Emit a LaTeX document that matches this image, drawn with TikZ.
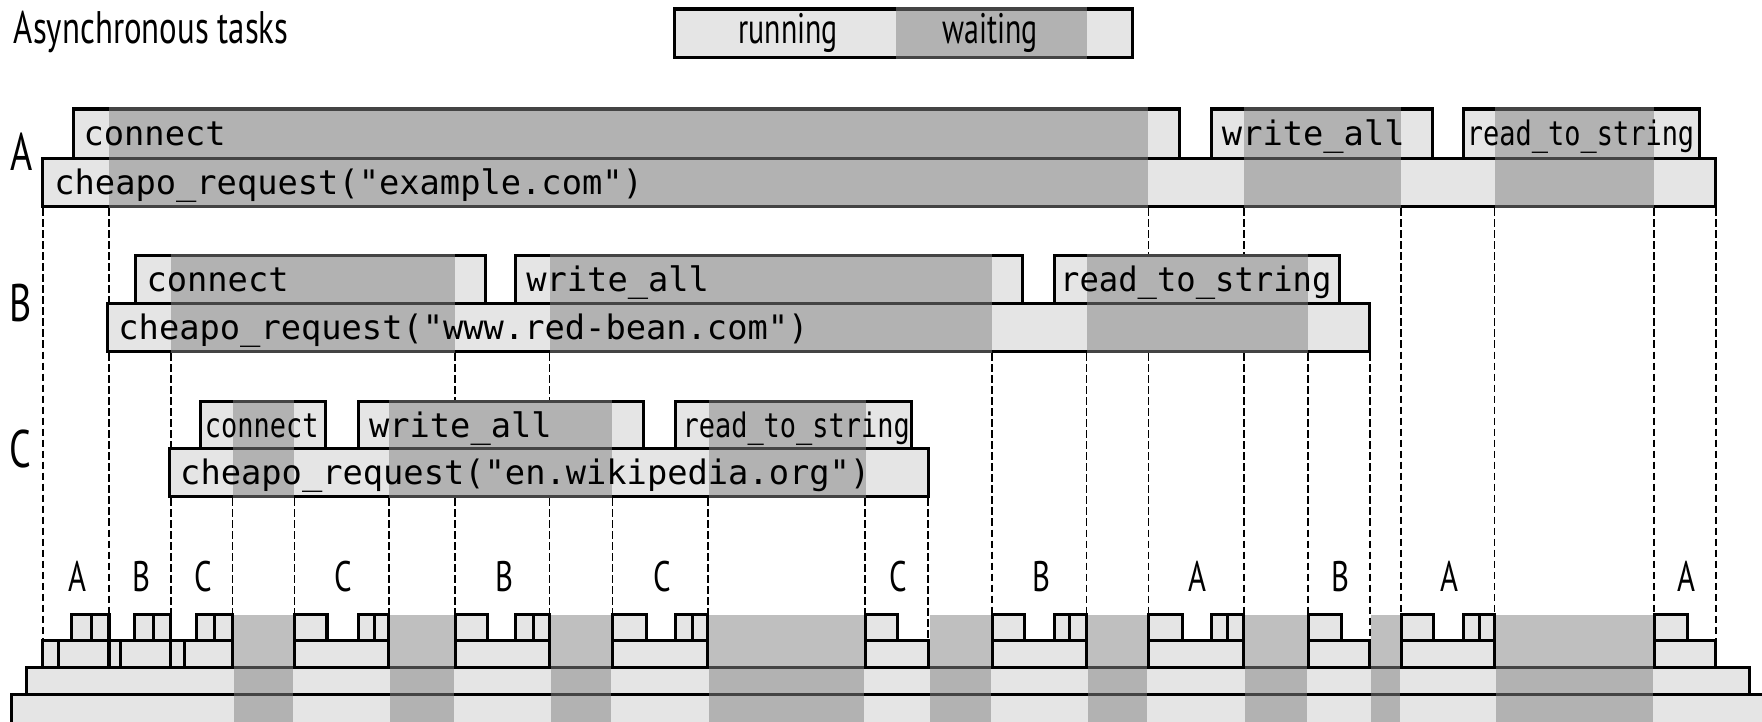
\documentclass[tikz,border=0pt]{standalone}
\usepackage{fontspec}
\newfontfamily\condf[FakeStretch=0.72]{PT Sans}
\newfontfamily\condl[FakeStretch=0.70]{PT Sans}
\newfontfamily\monof[FakeStretch=1.0]{DejaVu Sans Mono}
\newfontfamily\monob[FakeStretch=0.955]{DejaVu Sans Mono}
\newfontfamily\monon[FakeStretch=0.80]{DejaVu Sans Mono}
\definecolor{lightg}{gray}{0.9}
\definecolor{ovl}{RGB}{132,132,132}
\begin{document}
\begin{tikzpicture}[x=0.5pt,y=-0.5pt,
  box/.style={fill=lightg,draw=black,line width=1.35pt},
  wait/.style={fill=ovl,fill opacity=0.52,draw=none},
  guide/.style={draw=black,line width=0.75pt,dash pattern=on 3.3pt off 1.6pt},
  code/.style={font=\monof\fontsize{15}{17}\selectfont,anchor=base west,inner sep=0pt},
  codeb/.style={font=\monob\fontsize{15}{17}\selectfont,anchor=base west,inner sep=0pt},
  codesm/.style={font=\monon\fontsize{15}{17}\selectfont,anchor=base west,inner sep=0pt},
  lab/.style={font=\condf\fontsize{23.5}{26}\selectfont,inner sep=0pt},
  tlab/.style={font=\condf\fontsize{19}{22}\selectfont,inner sep=0pt},
  ttl/.style={font=\condf\fontsize{20.3}{24}\selectfont,inner sep=0pt},
  leg/.style={font=\condl\fontsize{19}{22}\selectfont,inner sep=0pt},
]
\useasboundingbox (0,0) rectangle (1568,642);
\clip (0,0) rectangle (1568,642);

% title and legend
\node[ttl,anchor=base west] (title) at (12,38.5) {Asynchronous tasks};
\path[box] (600,8) rectangle (1008,51);
\path[wait] (797,6.6) rectangle (967,52.4);
\node[leg,anchor=base] (run) at (701.5,39) {running};
\node[leg,anchor=base] (wt) at (881,39) {waiting};

% ---- task A ----
\path[box] (38,141) rectangle (1527,184);
\path[box] (65,97) rectangle (1050,141);
\path[box] (1078,97) rectangle (1275,141);
\path[box] (1302,97) rectangle (1512,141);
\foreach \a/\b in {97/1022,1107/1247,1330/1472}
  \path[wait] (\a,95.6) rectangle (\b,185.4);
\node[code] (Aconn) at (74,129.5) {connect};
\node[code] (Awrite) at (1087,129.5) {write\_all};
\node[codesm] (Aread) at (1305,129.5) {read\_to\_string};
\node[code] (Amain) at (48,173.5) {cheapo\_request("example.com")};
\node[lab] (Alab) at (19,135) {A};

% ---- task B ----
\path[box] (96,270) rectangle (1219,313);
\path[box] (121,227) rectangle (432,270);
\path[box] (459,227) rectangle (910,270);
\path[box] (938,227) rectangle (1192,270);
\foreach \a/\b in {152/405,489/883,967/1164}
  \path[wait] (\a,225.6) rectangle (\b,314.4);
\node[code] (Bconn) at (130,259.5) {connect};
\node[code] (Bwrite) at (468,259.5) {write\_all};
\node[codeb] (Bread) at (943,259.5) {read\_to\_string};
\node[code] (Bmain) at (105,302.5) {cheapo\_request("www.red-bean.com")};
\node[lab] (Blab) at (18,270) {B};

% ---- task C ----
\path[box] (151,399) rectangle (826,442);
\path[box] (178,357) rectangle (290,399);
\path[box] (319,357) rectangle (573,399);
\path[box] (601,357) rectangle (811,399);
\foreach \a/\b in {207/262,346/545,631/771}
  \path[wait] (\a,355.6) rectangle (\b,443.4);
\node[codesm] (Cconn) at (182,389) {connect};
\node[code] (Cwrite) at (328,389) {write\_all};
\node[codesm] (Cread) at (607,389) {read\_to\_string};
\node[code] (Cmain) at (160,431.5) {cheapo\_request("en.wikipedia.org")};
\node[lab] (Clab) at (18,400) {C};

% ---- dashed time guides ----
\foreach \x/\ya/\yb in {38/184/570, 97/184/270, 97/313/547, 152/313/399, 152/442/547,
  207/442/547, 262/442/547, 346/442/547, 405/313/357, 405/442/547, 489/313/357, 489/442/547,
  545/442/547, 630/442/547, 770/442/547, 826/442/570, 883/313/547, 967/313/547,
  1022/184/227, 1022/313/547, 1107/184/227, 1107/313/547, 1164/313/547, 1219/313/570,
  1247/184/547, 1330/184/547, 1472/184/547, 1527/184/570}
  \draw[guide] (\x,\ya+1.4) -- (\x,\yb-1.4);

% ---- bottom: execution stacks ----
\path[box] (10,618) rectangle (1590,646);
\path[box] (23.5,594) rectangle (1557,618);
\foreach \a/\b in {38/52,52/97,97/107.5,107.5/152,152/164.5,164.5/207,262/346,405/489,
  545/630,770/826,883/967,1022/1107,1164/1219,1247/1330,1472/1527}
  \path[box] (\a,570) rectangle (\b,594);
\foreach \a/\b in {64/81,81/97,120/136.5,136.5/152,175/191,191/207,262/291,319/333,333/346,
  405/434,459/475,475/489,545/575,601/616,616/630,770/799,883/912,938/952,952/967,
  1022/1052,1078/1092,1092/1107,1164/1194,1247/1276,1302/1317,1317/1330,1472/1502}
  \path[box] (\a,547) rectangle (\b,570);
\foreach \a/\b in {207/262,346/405,489/545,630/770,826/883,967/1022,1107/1164,1219/1247,1330/1472}
  \path[wait] (\a+1.3,547) rectangle (\b-1.3,646);

\foreach \x/\t [count=\i] in {69/A,126/B,181/C,305.5/C,448.5/B,589/C,799.5/C,926.5/B,1066/A,1193/B,1290/A,1501/A}
  \node[tlab] (run\i) at (\x,513) {\t};
\end{tikzpicture}
\end{document}
